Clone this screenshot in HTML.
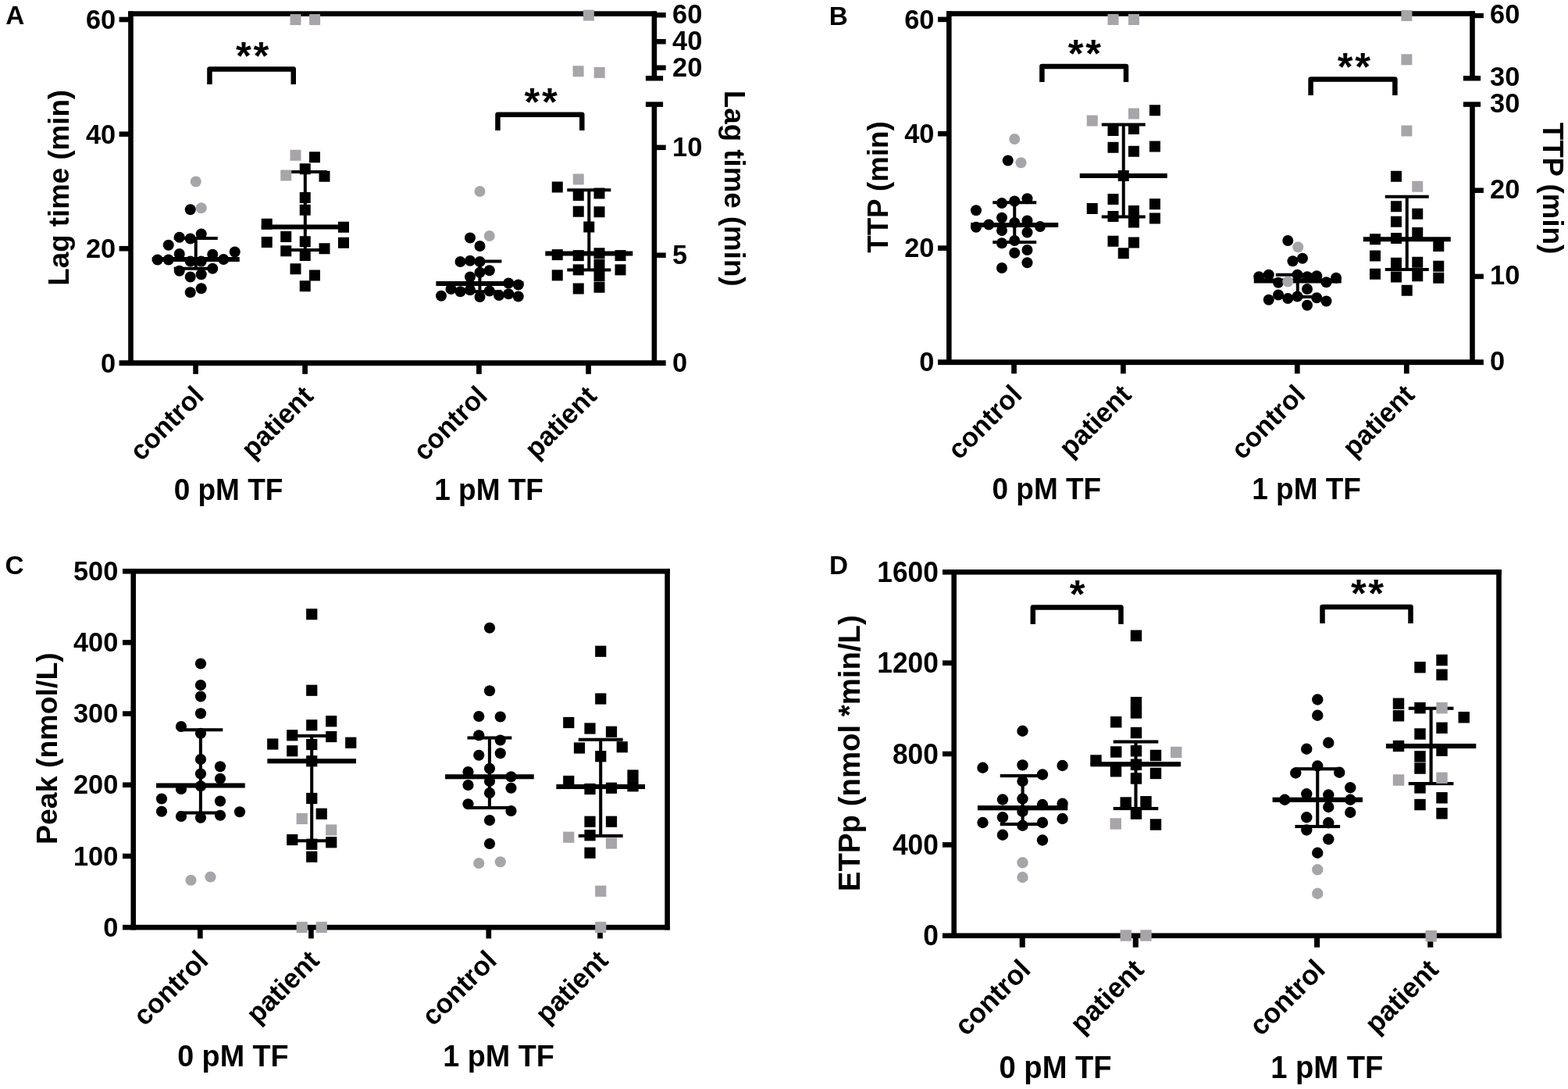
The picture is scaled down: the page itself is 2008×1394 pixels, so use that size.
<!DOCTYPE html>
<html lang="en"><head><meta charset="utf-8"><title>Figure</title>
<style>
html,body{margin:0;padding:0;background:#fff;overflow:hidden;width:2008px;height:1394px}
svg{display:block}
text{font-family:'Liberation Sans', Arial, Helvetica, sans-serif;font-weight:700;fill:#000}
</style></head>
<body>
<svg width="2008" height="1394" viewBox="0 0 2008 1394">
<rect width="2008" height="1394" fill="#fff"/>
<g id="panelA">
<rect x="164.2" y="14.5" width="6.6" height="453.4"/>
<rect x="164.2" y="14.3" width="677" height="6.6"/>
<rect x="152.6" y="461.25" width="700.1" height="6.9"/>
<rect x="152.6" y="21.7" width="14.9" height="6.6"/>
<rect x="152.6" y="168.4" width="14.9" height="6.6"/>
<rect x="152.6" y="314.9" width="14.9" height="6.6"/>
<rect x="834.6" y="14.5" width="6.6" height="85.7"/>
<rect x="837.9" y="16" width="14.8" height="6.5"/>
<rect x="837.9" y="50" width="14.8" height="6.5"/>
<rect x="837.9" y="83.5" width="14.8" height="6.5"/>
<rect x="826.9" y="96.95" width="22.2" height="6.5"/>
<rect x="826.9" y="130.35" width="22.2" height="6.5"/>
<rect x="834.6" y="133.6" width="6.6" height="334.3"/>
<rect x="837.9" y="185.55" width="14.8" height="6.5"/>
<rect x="837.9" y="323.45" width="14.8" height="6.5"/>
<rect x="247.25" y="464.6" width="6.7" height="14.2"/>
<rect x="387.25" y="464.6" width="6.7" height="14.2"/>
<rect x="610.05" y="464.6" width="6.7" height="14.2"/>
<rect x="750.2" y="464.6" width="6.7" height="14.2"/>
<g><circle cx="243.75" cy="268.25" r="7" fill="#000"/><circle cx="257.75" cy="299.5" r="7" fill="#000"/><circle cx="229.75" cy="303.75" r="7" fill="#000"/><circle cx="243.75" cy="305.5" r="7" fill="#000"/><circle cx="215.75" cy="313.75" r="7" fill="#000"/><circle cx="300.75" cy="322.5" r="7" fill="#000"/><circle cx="229.75" cy="325" r="7" fill="#000"/><circle cx="272.25" cy="325.75" r="7" fill="#000"/><circle cx="201.75" cy="332.5" r="7" fill="#000"/><circle cx="215.75" cy="332.5" r="7" fill="#000"/><circle cx="243.75" cy="334.5" r="7" fill="#000"/><circle cx="257.75" cy="334.5" r="7" fill="#000"/><circle cx="286.25" cy="332" r="7" fill="#000"/><circle cx="229.75" cy="346.75" r="7" fill="#000"/><circle cx="272.25" cy="343.75" r="7" fill="#000"/><circle cx="243.75" cy="354.5" r="7" fill="#000"/><circle cx="257.75" cy="351.25" r="7" fill="#000"/><circle cx="257.75" cy="369.25" r="7" fill="#000"/><circle cx="243.75" cy="374.25" r="7" fill="#000"/><rect x="194.75" y="329" width="112" height="6"/><rect x="222.75" y="303" width="56" height="4"/><rect x="222.75" y="341.75" width="56" height="4"/><rect x="248.75" y="305" width="4" height="38.75"/><circle cx="250.75" cy="232.5" r="7" fill="#a7a5a9"/><circle cx="257.75" cy="266.25" r="7" fill="#a7a5a9"/></g>
<g><rect x="396" y="194.25" width="14" height="14" fill="#000"/><rect x="383.75" y="209.25" width="14" height="14" fill="#000"/><rect x="408.5" y="218.75" width="14" height="14" fill="#000"/><rect x="383.75" y="246" width="14" height="14" fill="#000"/><rect x="383.75" y="261.75" width="14" height="14" fill="#000"/><rect x="334.75" y="279.75" width="14" height="14" fill="#000"/><rect x="433" y="283.75" width="14" height="14" fill="#000"/><rect x="359.25" y="296" width="14" height="14" fill="#000"/><rect x="334.75" y="303" width="14" height="14" fill="#000"/><rect x="383.75" y="302.25" width="14" height="14" fill="#000"/><rect x="433" y="303.75" width="14" height="14" fill="#000"/><rect x="359.25" y="314.25" width="14" height="14" fill="#000"/><rect x="408.5" y="311.25" width="14" height="14" fill="#000"/><rect x="383.75" y="320" width="14" height="14" fill="#000"/><rect x="371.5" y="337.25" width="14" height="14" fill="#000"/><rect x="396" y="345.5" width="14" height="14" fill="#000"/><rect x="383.75" y="359.25" width="14" height="14" fill="#000"/><rect x="334.8" y="287.5" width="112" height="6"/><rect x="362.8" y="218" width="56" height="4"/><rect x="362.8" y="318" width="56" height="4"/><rect x="388.8" y="220" width="4" height="100"/><rect x="371.5" y="191.75" width="14" height="14" fill="#a7a5a9"/><rect x="359.25" y="217.5" width="14" height="14" fill="#a7a5a9"/><rect x="371.5" y="18.1" width="14" height="14" fill="#a7a5a9"/><rect x="396.1" y="18.1" width="14" height="14" fill="#a7a5a9"/></g>
<g><circle cx="602" cy="304.5" r="7" fill="#000"/><circle cx="614.5" cy="315" r="7" fill="#000"/><circle cx="589.5" cy="335" r="7" fill="#000"/><circle cx="602" cy="333.75" r="7" fill="#000"/><circle cx="614.5" cy="335" r="7" fill="#000"/><circle cx="626.75" cy="346.25" r="7" fill="#000"/><circle cx="614.5" cy="348.75" r="7" fill="#000"/><circle cx="602" cy="354.5" r="7" fill="#000"/><circle cx="651.25" cy="362.5" r="7" fill="#000"/><circle cx="663.75" cy="364.5" r="7" fill="#000"/><circle cx="577.5" cy="370" r="7" fill="#000"/><circle cx="589.5" cy="373.25" r="7" fill="#000"/><circle cx="602" cy="371.25" r="7" fill="#000"/><circle cx="626.75" cy="372.5" r="7" fill="#000"/><circle cx="639" cy="378" r="7" fill="#000"/><circle cx="651.25" cy="376.25" r="7" fill="#000"/><circle cx="565" cy="378.75" r="7" fill="#000"/><circle cx="614.5" cy="380" r="7" fill="#000"/><circle cx="663.75" cy="379.5" r="7" fill="#000"/><rect x="558.4" y="360" width="112" height="6"/><rect x="586.4" y="332.5" width="56" height="4"/><rect x="586.4" y="371.25" width="56" height="4"/><rect x="612.4" y="334.5" width="4" height="38.75"/><circle cx="614.5" cy="245" r="7" fill="#a7a5a9"/><circle cx="626.75" cy="302" r="7" fill="#a7a5a9"/></g>
<g><rect x="706.75" y="232.5" width="14" height="14" fill="#000"/><rect x="733.75" y="243" width="14" height="14" fill="#000"/><rect x="760.5" y="240.5" width="14" height="14" fill="#000"/><rect x="733.75" y="263.75" width="14" height="14" fill="#000"/><rect x="760.5" y="264.25" width="14" height="14" fill="#000"/><rect x="747.25" y="283.5" width="14" height="14" fill="#000"/><rect x="706.75" y="319.12" width="14" height="14" fill="#000"/><rect x="733.75" y="320.12" width="14" height="14" fill="#000"/><rect x="760.5" y="317.25" width="14" height="14" fill="#000"/><rect x="787.5" y="320.12" width="14" height="14" fill="#000"/><rect x="760.5" y="331.75" width="14" height="14" fill="#000"/><rect x="733.75" y="338.38" width="14" height="14" fill="#000"/><rect x="706.75" y="345.38" width="14" height="14" fill="#000"/><rect x="787.5" y="338.38" width="14" height="14" fill="#000"/><rect x="733.75" y="362.5" width="14" height="14" fill="#000"/><rect x="760.5" y="360.75" width="14" height="14" fill="#000"/><rect x="760.5" y="346.25" width="14" height="14" fill="#000"/><rect x="698.3" y="321.5" width="112" height="6"/><rect x="726.3" y="241.25" width="56" height="4"/><rect x="726.3" y="343.5" width="56" height="4"/><rect x="752.3" y="243.25" width="4" height="102.25"/><rect x="733.75" y="222.5" width="14" height="14" fill="#a7a5a9"/><rect x="746.9" y="12.6" width="14" height="14" fill="#a7a5a9"/><rect x="733.6" y="84.2" width="14" height="14" fill="#a7a5a9"/><rect x="760.7" y="85.9" width="14" height="14" fill="#a7a5a9"/></g>
<path d="M268.45 107.9 V88.5 H375.75 V107.9" fill="none" stroke="#000" stroke-width="6.5" stroke-linejoin="round"/>
<text transform="translate(324.45 89)" font-size="50.8" text-anchor="middle" letter-spacing="2.7">**</text>
<path d="M637.45 167 V146.7 H745.3 V167" fill="none" stroke="#000" stroke-width="6.5" stroke-linejoin="round"/>
<text transform="translate(693.95 147.85)" font-size="50.8" text-anchor="middle" letter-spacing="2.7">**</text>
<text transform="translate(7.2 31.2)" font-size="33.3" text-anchor="start">A</text>
<text transform="translate(148.2 36.9) scale(1 1.035)" font-size="34.4" text-anchor="end">60</text>
<text transform="translate(148.2 183.6) scale(1 1.035)" font-size="34.4" text-anchor="end">40</text>
<text transform="translate(148.2 330.1) scale(1 1.035)" font-size="34.4" text-anchor="end">20</text>
<text transform="translate(148.2 476.5) scale(1 1.035)" font-size="34.4" text-anchor="end">0</text>
<text transform="translate(861.1 30.15) scale(1 1.035)" font-size="34.4" text-anchor="start">60</text>
<text transform="translate(861.1 64.15) scale(1 1.035)" font-size="34.4" text-anchor="start">40</text>
<text transform="translate(861.1 97.65) scale(1 1.035)" font-size="34.4" text-anchor="start">20</text>
<text transform="translate(861.1 199.7) scale(1 1.035)" font-size="34.4" text-anchor="start">10</text>
<text transform="translate(861.1 337.6) scale(1 1.035)" font-size="34.4" text-anchor="start">5</text>
<text transform="translate(861.1 475.5) scale(1 1.035)" font-size="34.4" text-anchor="start">0</text>
<text transform="translate(88.1 240.3) rotate(-90)" font-size="36.7" text-anchor="middle">Lag time (min)</text>
<text transform="translate(928.1 241.2) rotate(90)" font-size="36.7" text-anchor="middle">Lag time (min)</text>
<text transform="translate(263.1 509) rotate(-45) scale(1 1.02)" font-size="34.4" text-anchor="end">control</text>
<text transform="translate(403.15 509) rotate(-45) scale(1 1.02)" font-size="34.4" text-anchor="end">patient</text>
<text transform="translate(626.1 509) rotate(-45) scale(1 1.02)" font-size="34.4" text-anchor="end">control</text>
<text transform="translate(766.1 509) rotate(-45) scale(1 1.02)" font-size="34.4" text-anchor="end">patient</text>
<text transform="translate(292.5 640) scale(1 1.05)" font-size="37" text-anchor="middle">0 pM TF</text>
<text transform="translate(626.1 640) scale(1 1.05)" font-size="37" text-anchor="middle">1 pM TF</text>
</g>
<g id="panelB">
<rect x="1212" y="14.4" width="6.6" height="452.5"/>
<rect x="1212" y="14.2" width="676.8" height="6.6"/>
<rect x="1201" y="460.25" width="698.9" height="6.9"/>
<rect x="1201" y="21.6" width="14.3" height="6.6"/>
<rect x="1201" y="167.9" width="14.3" height="6.6"/>
<rect x="1201" y="314.3" width="14.3" height="6.6"/>
<rect x="1882.2" y="14.4" width="6.6" height="85.8"/>
<rect x="1885.5" y="16.85" width="14.4" height="6.3"/>
<rect x="1873.9" y="96.95" width="22.2" height="6.5"/>
<rect x="1873.9" y="130.35" width="22.2" height="6.5"/>
<rect x="1882.2" y="133.6" width="6.6" height="333.3"/>
<rect x="1885.5" y="240.45" width="14.4" height="6.5"/>
<rect x="1885.5" y="350.65" width="14.4" height="6.5"/>
<rect x="1295.2" y="463.6" width="6.7" height="14.7"/>
<rect x="1435.05" y="463.6" width="6.7" height="14.7"/>
<rect x="1657.95" y="463.6" width="6.7" height="14.7"/>
<rect x="1797.95" y="463.6" width="6.7" height="14.7"/>
<g><circle cx="1290.75" cy="205.5" r="7" fill="#000"/><circle cx="1315.5" cy="254.25" r="7" fill="#000"/><circle cx="1299.25" cy="257.5" r="7" fill="#000"/><circle cx="1283" cy="260" r="7" fill="#000"/><circle cx="1250" cy="269.25" r="7" fill="#000"/><circle cx="1283" cy="278.75" r="7" fill="#000"/><circle cx="1315.5" cy="282.5" r="7" fill="#000"/><circle cx="1299.25" cy="285" r="7" fill="#000"/><circle cx="1266.25" cy="287.5" r="7" fill="#000"/><circle cx="1250" cy="290.75" r="7" fill="#000"/><circle cx="1332" cy="290" r="7" fill="#000"/><circle cx="1283" cy="295" r="7" fill="#000"/><circle cx="1315.5" cy="297.5" r="7" fill="#000"/><circle cx="1299.25" cy="308" r="7" fill="#000"/><circle cx="1283" cy="311.25" r="7" fill="#000"/><circle cx="1315.5" cy="320" r="7" fill="#000"/><circle cx="1299.25" cy="323.75" r="7" fill="#000"/><circle cx="1315.5" cy="336.25" r="7" fill="#000"/><circle cx="1283" cy="343" r="7" fill="#000"/><rect x="1243.25" y="285" width="112" height="6"/><rect x="1271.25" y="257.25" width="56" height="4"/><rect x="1271.25" y="308" width="56" height="4"/><rect x="1297.25" y="259.25" width="4" height="50.75"/><circle cx="1299.25" cy="178" r="7" fill="#a7a5a9"/><circle cx="1307.5" cy="208.25" r="7" fill="#a7a5a9"/></g>
<g><rect x="1472" y="134.25" width="14" height="14" fill="#000"/><rect x="1418.5" y="160" width="14" height="14" fill="#000"/><rect x="1445" y="158" width="14" height="14" fill="#000"/><rect x="1418.5" y="181.75" width="14" height="14" fill="#000"/><rect x="1445" y="186.75" width="14" height="14" fill="#000"/><rect x="1472" y="180.5" width="14" height="14" fill="#000"/><rect x="1431.75" y="218" width="14" height="14" fill="#000"/><rect x="1418.5" y="248" width="14" height="14" fill="#000"/><rect x="1391.75" y="260" width="14" height="14" fill="#000"/><rect x="1472" y="254.25" width="14" height="14" fill="#000"/><rect x="1445" y="263" width="14" height="14" fill="#000"/><rect x="1418.5" y="270" width="14" height="14" fill="#000"/><rect x="1472" y="272.5" width="14" height="14" fill="#000"/><rect x="1445" y="277.5" width="14" height="14" fill="#000"/><rect x="1418.5" y="301.75" width="14" height="14" fill="#000"/><rect x="1445" y="303.5" width="14" height="14" fill="#000"/><rect x="1431.75" y="317.25" width="14" height="14" fill="#000"/><rect x="1382.75" y="222" width="112" height="6"/><rect x="1410.75" y="157.5" width="56" height="4"/><rect x="1410.75" y="275.5" width="56" height="4"/><rect x="1436.75" y="159.5" width="4" height="118"/><rect x="1418.5" y="18" width="14" height="14" fill="#a7a5a9"/><rect x="1445" y="18" width="14" height="14" fill="#a7a5a9"/><rect x="1445" y="138.5" width="14" height="14" fill="#a7a5a9"/><rect x="1391.75" y="147.5" width="14" height="14" fill="#a7a5a9"/></g>
<g><circle cx="1649.25" cy="308" r="7" fill="#000"/><circle cx="1668" cy="330.75" r="7" fill="#000"/><circle cx="1655.5" cy="334.25" r="7" fill="#000"/><circle cx="1624.75" cy="351.75" r="7" fill="#000"/><circle cx="1612.25" cy="354.25" r="7" fill="#000"/><circle cx="1661.5" cy="351.75" r="7" fill="#000"/><circle cx="1674" cy="354.25" r="7" fill="#000"/><circle cx="1686.25" cy="353.25" r="7" fill="#000"/><circle cx="1711" cy="355.75" r="7" fill="#000"/><circle cx="1637" cy="361.75" r="7" fill="#000"/><circle cx="1698.5" cy="361.25" r="7" fill="#000"/><circle cx="1674" cy="370" r="7" fill="#000"/><circle cx="1637" cy="377.5" r="7" fill="#000"/><circle cx="1624.75" cy="383.75" r="7" fill="#000"/><circle cx="1649.25" cy="382" r="7" fill="#000"/><circle cx="1661.5" cy="379.5" r="7" fill="#000"/><circle cx="1686.25" cy="381.25" r="7" fill="#000"/><circle cx="1698.5" cy="385.5" r="7" fill="#000"/><circle cx="1674" cy="390.75" r="7" fill="#000"/><rect x="1605.75" y="356.5" width="112" height="6"/><rect x="1633.75" y="349.75" width="56" height="4"/><rect x="1633.75" y="378" width="56" height="4"/><rect x="1659.75" y="351.75" width="4" height="28.25"/><circle cx="1662.25" cy="316.25" r="7" fill="#a7a5a9"/><circle cx="1649.25" cy="360.5" r="7" fill="#a7a5a9"/></g>
<g><rect x="1781" y="257.25" width="14" height="14" fill="#000"/><rect x="1808.25" y="266.75" width="14" height="14" fill="#000"/><rect x="1781" y="276.75" width="14" height="14" fill="#000"/><rect x="1808.25" y="291" width="14" height="14" fill="#000"/><rect x="1754" y="299.25" width="14" height="14" fill="#000"/><rect x="1781" y="298" width="14" height="14" fill="#000"/><rect x="1835.25" y="308" width="14" height="14" fill="#000"/><rect x="1754" y="320.5" width="14" height="14" fill="#000"/><rect x="1781" y="329.75" width="14" height="14" fill="#000"/><rect x="1808.25" y="328.75" width="14" height="14" fill="#000"/><rect x="1835.25" y="333.75" width="14" height="14" fill="#000"/><rect x="1754" y="343.75" width="14" height="14" fill="#000"/><rect x="1781" y="347.5" width="14" height="14" fill="#000"/><rect x="1808.25" y="346.25" width="14" height="14" fill="#000"/><rect x="1835.25" y="348.75" width="14" height="14" fill="#000"/><rect x="1794.75" y="364.75" width="14" height="14" fill="#000"/><rect x="1781" y="218.75" width="14" height="14" fill="#000"/><rect x="1745.75" y="303.25" width="112" height="6"/><rect x="1773.75" y="249.75" width="56" height="4"/><rect x="1773.75" y="343" width="56" height="4"/><rect x="1799.75" y="251.75" width="4" height="93.25"/><rect x="1808.25" y="231.75" width="14" height="14" fill="#a7a5a9"/><rect x="1794.4" y="13" width="14" height="14" fill="#a7a5a9"/><rect x="1794.4" y="69.25" width="14" height="14" fill="#a7a5a9"/><rect x="1794.4" y="160.5" width="14" height="14" fill="#a7a5a9"/></g>
<path d="M1334.4 104.9 V85 H1442 V104.9" fill="none" stroke="#000" stroke-width="6.5" stroke-linejoin="round"/>
<text transform="translate(1390.25 85.7)" font-size="50.8" text-anchor="middle" letter-spacing="2.7">**</text>
<path d="M1678.6 122 V101.6 H1786.4 V122" fill="none" stroke="#000" stroke-width="6.5" stroke-linejoin="round"/>
<text transform="translate(1735.25 102.8)" font-size="50.8" text-anchor="middle" letter-spacing="2.7">**</text>
<text transform="translate(1061.8 31.7)" font-size="33.3" text-anchor="start">B</text>
<text transform="translate(1196.5 36.5) scale(1 1.035)" font-size="34.4" text-anchor="end">60</text>
<text transform="translate(1196.5 182.8) scale(1 1.035)" font-size="34.4" text-anchor="end">40</text>
<text transform="translate(1196.5 329.2) scale(1 1.035)" font-size="34.4" text-anchor="end">20</text>
<text transform="translate(1196.5 475.2) scale(1 1.035)" font-size="34.4" text-anchor="end">0</text>
<text transform="translate(1908 29.9) scale(1 1.035)" font-size="34.4" text-anchor="start">60</text>
<text transform="translate(1908 110.1) scale(1 1.035)" font-size="34.4" text-anchor="start">30</text>
<text transform="translate(1908 143.5) scale(1 1.035)" font-size="34.4" text-anchor="start">30</text>
<text transform="translate(1908 253.6) scale(1 1.035)" font-size="34.4" text-anchor="start">20</text>
<text transform="translate(1908 363.8) scale(1 1.035)" font-size="34.4" text-anchor="start">10</text>
<text transform="translate(1908 473.5) scale(1 1.035)" font-size="34.4" text-anchor="start">0</text>
<text transform="translate(1137 239.5) rotate(-90)" font-size="36.7" text-anchor="middle">TTP (min)</text>
<text transform="translate(1975.7 241) rotate(90)" font-size="36.7" text-anchor="middle">TTP (min)</text>
<text transform="translate(1310.65 507.4) rotate(-45) scale(1 1.02)" font-size="34.4" text-anchor="end">control</text>
<text transform="translate(1450.5 507.4) rotate(-45) scale(1 1.02)" font-size="34.4" text-anchor="end">patient</text>
<text transform="translate(1673.4 507.4) rotate(-45) scale(1 1.02)" font-size="34.4" text-anchor="end">control</text>
<text transform="translate(1813.4 507.4) rotate(-45) scale(1 1.02)" font-size="34.4" text-anchor="end">patient</text>
<text transform="translate(1340.3 638.6) scale(1 1.05)" font-size="37" text-anchor="middle">0 pM TF</text>
<text transform="translate(1673.1 638.6) scale(1 1.05)" font-size="37" text-anchor="middle">1 pM TF</text>
</g>
<g id="panelC">
<rect x="167.45" y="727.95" width="6.6" height="462.45"/>
<rect x="851.3" y="727.95" width="6.6" height="462.45"/>
<rect x="157" y="727.95" width="700.9" height="6.6"/>
<rect x="157" y="1183.8" width="700.9" height="6.6"/>
<rect x="157" y="819.12" width="13.75" height="6.6"/>
<rect x="157" y="910.29" width="13.75" height="6.6"/>
<rect x="157" y="1001.46" width="13.75" height="6.6"/>
<rect x="157" y="1092.63" width="13.75" height="6.6"/>
<rect x="252.95" y="1187.1" width="6.7" height="14.3"/>
<rect x="395.05" y="1187.1" width="6.7" height="14.3"/>
<rect x="622.45" y="1187.1" width="6.7" height="14.3"/>
<rect x="765.15" y="1187.1" width="6.7" height="14.3"/>
<g><circle cx="257" cy="849.5" r="7.1" fill="#000"/><circle cx="257" cy="877" r="7.1" fill="#000"/><circle cx="257" cy="891.5" r="7.1" fill="#000"/><circle cx="257" cy="913.25" r="7.1" fill="#000"/><circle cx="232" cy="930" r="7.1" fill="#000"/><circle cx="257" cy="938.75" r="7.1" fill="#000"/><circle cx="257" cy="972" r="7.1" fill="#000"/><circle cx="282" cy="981.25" r="7.1" fill="#000"/><circle cx="257" cy="990.5" r="7.1" fill="#000"/><circle cx="282" cy="996.75" r="7.1" fill="#000"/><circle cx="257" cy="1006.25" r="7.1" fill="#000"/><circle cx="232" cy="1010" r="7.1" fill="#000"/><circle cx="207" cy="1022.5" r="7.1" fill="#000"/><circle cx="282" cy="1025.5" r="7.1" fill="#000"/><circle cx="207" cy="1038.75" r="7.1" fill="#000"/><circle cx="307" cy="1039.25" r="7.1" fill="#000"/><circle cx="232" cy="1045" r="7.1" fill="#000"/><circle cx="282" cy="1043.75" r="7.1" fill="#000"/><circle cx="257" cy="1046.75" r="7.1" fill="#000"/><rect x="200.06" y="1002.46" width="113.68" height="6.09"/><rect x="228.48" y="932.22" width="56.84" height="4.06"/><rect x="228.48" y="1038.47" width="56.84" height="4.06"/><rect x="254.87" y="934.25" width="4.06" height="106.25"/><circle cx="244.5" cy="1126.75" r="7.1" fill="#a7a5a9"/><circle cx="269.5" cy="1122.5" r="7.1" fill="#a7a5a9"/></g>
<g><rect x="392.14" y="779.14" width="14.21" height="14.21" fill="#000"/><rect x="392.14" y="876.64" width="14.21" height="14.21" fill="#000"/><rect x="417.14" y="916.14" width="14.21" height="14.21" fill="#000"/><rect x="392.14" y="921.14" width="14.21" height="14.21" fill="#000"/><rect x="367.14" y="934.14" width="14.21" height="14.21" fill="#000"/><rect x="417.14" y="935.89" width="14.21" height="14.21" fill="#000"/><rect x="342.14" y="945.39" width="14.21" height="14.21" fill="#000"/><rect x="442.14" y="943.64" width="14.21" height="14.21" fill="#000"/><rect x="392.14" y="945.89" width="14.21" height="14.21" fill="#000"/><rect x="367.14" y="954.14" width="14.21" height="14.21" fill="#000"/><rect x="392.14" y="967.14" width="14.21" height="14.21" fill="#000"/><rect x="392.14" y="1014.89" width="14.21" height="14.21" fill="#000"/><rect x="404.64" y="1034.64" width="14.21" height="14.21" fill="#000"/><rect x="367.14" y="1067.89" width="14.21" height="14.21" fill="#000"/><rect x="417.14" y="1071.14" width="14.21" height="14.21" fill="#000"/><rect x="392.14" y="1073.64" width="14.21" height="14.21" fill="#000"/><rect x="392.14" y="1089.64" width="14.21" height="14.21" fill="#000"/><rect x="342.36" y="971.21" width="113.68" height="6.09"/><rect x="370.78" y="939.97" width="56.84" height="4.06"/><rect x="370.78" y="1074.22" width="56.84" height="4.06"/><rect x="397.17" y="942" width="4.06" height="134.25"/><rect x="379.64" y="1040.89" width="14.21" height="14.21" fill="#a7a5a9"/><rect x="417.14" y="1055.39" width="14.21" height="14.21" fill="#a7a5a9"/><rect x="379.64" y="1179.89" width="14.21" height="14.21" fill="#a7a5a9"/><rect x="404.64" y="1179.89" width="14.21" height="14.21" fill="#a7a5a9"/></g>
<g><circle cx="627" cy="803.75" r="7.1" fill="#000"/><circle cx="627" cy="884.25" r="7.1" fill="#000"/><circle cx="613.25" cy="917" r="7.1" fill="#000"/><circle cx="640.75" cy="917.5" r="7.1" fill="#000"/><circle cx="613.25" cy="941.25" r="7.1" fill="#000"/><circle cx="640.75" cy="947.5" r="7.1" fill="#000"/><circle cx="613.25" cy="966.75" r="7.1" fill="#000"/><circle cx="640.75" cy="964.25" r="7.1" fill="#000"/><circle cx="627" cy="983.75" r="7.1" fill="#000"/><circle cx="599.5" cy="988" r="7.1" fill="#000"/><circle cx="654.5" cy="994.25" r="7.1" fill="#000"/><circle cx="627" cy="1000" r="7.1" fill="#000"/><circle cx="599.5" cy="1005" r="7.1" fill="#000"/><circle cx="654.5" cy="1008.75" r="7.1" fill="#000"/><circle cx="627" cy="1015" r="7.1" fill="#000"/><circle cx="599.5" cy="1029.25" r="7.1" fill="#000"/><circle cx="654.5" cy="1038" r="7.1" fill="#000"/><circle cx="627" cy="1050" r="7.1" fill="#000"/><circle cx="627" cy="1080" r="7.1" fill="#000"/><rect x="570.06" y="991.21" width="113.68" height="6.09"/><rect x="598.48" y="942.47" width="56.84" height="4.06"/><rect x="598.48" y="1031.97" width="56.84" height="4.06"/><rect x="624.87" y="944.5" width="4.06" height="89.5"/><circle cx="613.25" cy="1105" r="7.1" fill="#a7a5a9"/><circle cx="640.75" cy="1103.25" r="7.1" fill="#a7a5a9"/></g>
<g><rect x="762.14" y="826.64" width="14.21" height="14.21" fill="#000"/><rect x="762.14" y="887.39" width="14.21" height="14.21" fill="#000"/><rect x="721.14" y="917.89" width="14.21" height="14.21" fill="#000"/><rect x="748.39" y="925.39" width="14.21" height="14.21" fill="#000"/><rect x="775.89" y="929.64" width="14.21" height="14.21" fill="#000"/><rect x="734.89" y="950.39" width="14.21" height="14.21" fill="#000"/><rect x="789.64" y="949.14" width="14.21" height="14.21" fill="#000"/><rect x="762.14" y="961.14" width="14.21" height="14.21" fill="#000"/><rect x="803.39" y="985.39" width="14.21" height="14.21" fill="#000"/><rect x="721.14" y="992.89" width="14.21" height="14.21" fill="#000"/><rect x="803.39" y="999.14" width="14.21" height="14.21" fill="#000"/><rect x="748.39" y="1002.89" width="14.21" height="14.21" fill="#000"/><rect x="775.89" y="1001.64" width="14.21" height="14.21" fill="#000"/><rect x="748.39" y="1044.64" width="14.21" height="14.21" fill="#000"/><rect x="775.89" y="1044.64" width="14.21" height="14.21" fill="#000"/><rect x="748.39" y="1062.14" width="14.21" height="14.21" fill="#000"/><rect x="748.39" y="1084.64" width="14.21" height="14.21" fill="#000"/><rect x="712.36" y="1003.96" width="113.68" height="6.09"/><rect x="740.78" y="944.72" width="56.84" height="4.06"/><rect x="740.78" y="1067.97" width="56.84" height="4.06"/><rect x="767.17" y="946.75" width="4.06" height="123.25"/><rect x="721.14" y="1064.64" width="14.21" height="14.21" fill="#a7a5a9"/><rect x="775.89" y="1072.39" width="14.21" height="14.21" fill="#a7a5a9"/><rect x="762.14" y="1133.64" width="14.21" height="14.21" fill="#a7a5a9"/><rect x="762.14" y="1179.89" width="14.21" height="14.21" fill="#a7a5a9"/></g>
<text transform="translate(6.6 735.3)" font-size="33.3" text-anchor="start">C</text>
<text transform="translate(151.3 742.85) scale(1 1.035)" font-size="34.4" text-anchor="end">500</text>
<text transform="translate(151.3 834.02) scale(1 1.035)" font-size="34.4" text-anchor="end">400</text>
<text transform="translate(151.3 925.19) scale(1 1.035)" font-size="34.4" text-anchor="end">300</text>
<text transform="translate(151.3 1016.36) scale(1 1.035)" font-size="34.4" text-anchor="end">200</text>
<text transform="translate(151.3 1107.53) scale(1 1.035)" font-size="34.4" text-anchor="end">100</text>
<text transform="translate(151.3 1198.7) scale(1 1.035)" font-size="34.4" text-anchor="end">0</text>
<text transform="translate(72.5 958.1) rotate(-90)" font-size="37.51" text-anchor="middle">Peak (nmol/L)</text>
<text transform="translate(268.5 1231.6) rotate(-45) scale(1 1.02)" font-size="34.74" text-anchor="end">control</text>
<text transform="translate(410.6 1231.6) rotate(-45) scale(1 1.02)" font-size="34.74" text-anchor="end">patient</text>
<text transform="translate(638 1231.6) rotate(-45) scale(1 1.02)" font-size="34.74" text-anchor="end">control</text>
<text transform="translate(780.7 1231.6) rotate(-45) scale(1 1.02)" font-size="34.74" text-anchor="end">patient</text>
<text transform="translate(298.4 1365) scale(1 1.05)" font-size="37.74" text-anchor="middle">0 pM TF</text>
<text transform="translate(638.55 1365) scale(1 1.05)" font-size="37.74" text-anchor="middle">1 pM TF</text>
</g>
<g id="panelD">
<rect x="1218.4" y="729" width="6.6" height="472.05"/>
<rect x="1916.2" y="729" width="6.6" height="472.05"/>
<rect x="1207" y="729" width="715.8" height="6.6"/>
<rect x="1207" y="1194.45" width="715.8" height="6.6"/>
<rect x="1207" y="845.36" width="14.7" height="6.6"/>
<rect x="1207" y="961.73" width="14.7" height="6.6"/>
<rect x="1207" y="1078.09" width="14.7" height="6.6"/>
<rect x="1305.65" y="1197.75" width="7.1" height="14.95"/>
<rect x="1450.75" y="1197.75" width="7.1" height="14.95"/>
<rect x="1683.05" y="1197.75" width="7.1" height="14.95"/>
<rect x="1828.2" y="1197.75" width="7.1" height="14.95"/>
<g><circle cx="1309.5" cy="935.75" r="7.21" fill="#000"/><circle cx="1258.5" cy="982.75" r="7.21" fill="#000"/><circle cx="1309.5" cy="979.4" r="7.21" fill="#000"/><circle cx="1360.6" cy="980" r="7.21" fill="#000"/><circle cx="1335" cy="991.5" r="7.21" fill="#000"/><circle cx="1309.5" cy="1000" r="7.21" fill="#000"/><circle cx="1284" cy="1023.5" r="7.21" fill="#000"/><circle cx="1309.5" cy="1022.5" r="7.21" fill="#000"/><circle cx="1335" cy="1030" r="7.21" fill="#000"/><circle cx="1360.6" cy="1028.75" r="7.21" fill="#000"/><circle cx="1309.5" cy="1038.75" r="7.21" fill="#000"/><circle cx="1284" cy="1046.25" r="7.21" fill="#000"/><circle cx="1360.6" cy="1048" r="7.21" fill="#000"/><circle cx="1258.5" cy="1053" r="7.21" fill="#000"/><circle cx="1335" cy="1053" r="7.21" fill="#000"/><circle cx="1309.5" cy="1056.75" r="7.21" fill="#000"/><circle cx="1284" cy="1068.75" r="7.21" fill="#000"/><circle cx="1335" cy="1075.5" r="7.21" fill="#000"/><rect x="1251.92" y="1031.11" width="115.36" height="6.18"/><rect x="1280.76" y="991.04" width="57.68" height="4.12"/><rect x="1280.76" y="1052.94" width="57.68" height="4.12"/><rect x="1307.54" y="993.1" width="4.12" height="61.9"/><circle cx="1309.5" cy="1104.25" r="7.21" fill="#a7a5a9"/><circle cx="1309.5" cy="1123" r="7.21" fill="#a7a5a9"/></g>
<g><rect x="1447.79" y="806.54" width="14.42" height="14.42" fill="#000"/><rect x="1447.79" y="892.04" width="14.42" height="14.42" fill="#000"/><rect x="1447.79" y="905.29" width="14.42" height="14.42" fill="#000"/><rect x="1422.04" y="917.04" width="14.42" height="14.42" fill="#000"/><rect x="1447.79" y="930.79" width="14.42" height="14.42" fill="#000"/><rect x="1422.04" y="955.29" width="14.42" height="14.42" fill="#000"/><rect x="1447.79" y="954.04" width="14.42" height="14.42" fill="#000"/><rect x="1472.79" y="959.79" width="14.42" height="14.42" fill="#000"/><rect x="1396.29" y="966.29" width="14.42" height="14.42" fill="#000"/><rect x="1447.79" y="971.54" width="14.42" height="14.42" fill="#000"/><rect x="1421.79" y="980.04" width="14.42" height="14.42" fill="#000"/><rect x="1472.79" y="982.79" width="14.42" height="14.42" fill="#000"/><rect x="1447.79" y="989.29" width="14.42" height="14.42" fill="#000"/><rect x="1434.54" y="1020.29" width="14.42" height="14.42" fill="#000"/><rect x="1460.29" y="1019.04" width="14.42" height="14.42" fill="#000"/><rect x="1447.79" y="1034.39" width="14.42" height="14.42" fill="#000"/><rect x="1472.79" y="1048.29" width="14.42" height="14.42" fill="#000"/><rect x="1396.82" y="975.16" width="115.36" height="6.18"/><rect x="1425.66" y="947.44" width="57.68" height="4.12"/><rect x="1425.66" y="1032.94" width="57.68" height="4.12"/><rect x="1452.44" y="949.5" width="4.12" height="85.5"/><rect x="1499.04" y="955.79" width="14.42" height="14.42" fill="#a7a5a9"/><rect x="1421.54" y="1047.29" width="14.42" height="14.42" fill="#a7a5a9"/><rect x="1434.54" y="1190.29" width="14.42" height="14.42" fill="#a7a5a9"/><rect x="1460.29" y="1190.29" width="14.42" height="14.42" fill="#a7a5a9"/></g>
<g><circle cx="1687.25" cy="895.5" r="7.21" fill="#000"/><circle cx="1687.25" cy="915.75" r="7.21" fill="#000"/><circle cx="1701.25" cy="950.75" r="7.21" fill="#000"/><circle cx="1673.25" cy="958.75" r="7.21" fill="#000"/><circle cx="1687.25" cy="980.5" r="7.21" fill="#000"/><circle cx="1659.25" cy="989.5" r="7.21" fill="#000"/><circle cx="1715.25" cy="988.75" r="7.21" fill="#000"/><circle cx="1729.25" cy="1008.25" r="7.21" fill="#000"/><circle cx="1673.25" cy="1016.25" r="7.21" fill="#000"/><circle cx="1701.25" cy="1017.5" r="7.21" fill="#000"/><circle cx="1645.25" cy="1023.75" r="7.21" fill="#000"/><circle cx="1729.25" cy="1023.75" r="7.21" fill="#000"/><circle cx="1701.25" cy="1033" r="7.21" fill="#000"/><circle cx="1729.25" cy="1040" r="7.21" fill="#000"/><circle cx="1673.25" cy="1046.25" r="7.21" fill="#000"/><circle cx="1701.25" cy="1053.25" r="7.21" fill="#000"/><circle cx="1673.25" cy="1062.5" r="7.21" fill="#000"/><circle cx="1701.25" cy="1074.25" r="7.21" fill="#000"/><circle cx="1687.25" cy="1091.75" r="7.21" fill="#000"/><rect x="1629.57" y="1020.66" width="115.36" height="6.18"/><rect x="1658.41" y="982.19" width="57.68" height="4.12"/><rect x="1658.41" y="1055.94" width="57.68" height="4.12"/><rect x="1685.19" y="984.25" width="4.12" height="73.75"/><circle cx="1687.25" cy="1113.25" r="7.21" fill="#a7a5a9"/><circle cx="1687.25" cy="1143.75" r="7.21" fill="#a7a5a9"/></g>
<g><rect x="1839.29" y="837.79" width="14.42" height="14.42" fill="#000"/><rect x="1811.29" y="847.04" width="14.42" height="14.42" fill="#000"/><rect x="1839.29" y="856.54" width="14.42" height="14.42" fill="#000"/><rect x="1783.79" y="893.54" width="14.42" height="14.42" fill="#000"/><rect x="1811.29" y="899.04" width="14.42" height="14.42" fill="#000"/><rect x="1783.79" y="909.04" width="14.42" height="14.42" fill="#000"/><rect x="1867.54" y="911.04" width="14.42" height="14.42" fill="#000"/><rect x="1839.29" y="924.54" width="14.42" height="14.42" fill="#000"/><rect x="1811.29" y="932.29" width="14.42" height="14.42" fill="#000"/><rect x="1783.79" y="947.79" width="14.42" height="14.42" fill="#000"/><rect x="1839.29" y="953.54" width="14.42" height="14.42" fill="#000"/><rect x="1811.29" y="961.19" width="14.42" height="14.42" fill="#000"/><rect x="1811.29" y="976.29" width="14.42" height="14.42" fill="#000"/><rect x="1811.29" y="1001.19" width="14.42" height="14.42" fill="#000"/><rect x="1839.29" y="1014.04" width="14.42" height="14.42" fill="#000"/><rect x="1811.29" y="1022.79" width="14.42" height="14.42" fill="#000"/><rect x="1839.29" y="1034.04" width="14.42" height="14.42" fill="#000"/><rect x="1774.92" y="951.91" width="115.36" height="6.18"/><rect x="1803.76" y="904.69" width="57.68" height="4.12"/><rect x="1803.76" y="1001.04" width="57.68" height="4.12"/><rect x="1830.54" y="906.75" width="4.12" height="96.35"/><rect x="1839.29" y="899.04" width="14.42" height="14.42" fill="#a7a5a9"/><rect x="1783.79" y="991.29" width="14.42" height="14.42" fill="#a7a5a9"/><rect x="1839.29" y="988.54" width="14.42" height="14.42" fill="#a7a5a9"/><rect x="1825.54" y="1190.99" width="14.42" height="14.42" fill="#a7a5a9"/></g>
<path d="M1322.8 799 V777.6 H1435.5 V799" fill="none" stroke="#000" stroke-width="6.5" stroke-linejoin="round"/>
<text transform="translate(1380.95 777.5)" font-size="50.8" text-anchor="middle" letter-spacing="2.7">*</text>
<path d="M1693.5 797.9 V777.05 H1806.5 V797.9" fill="none" stroke="#000" stroke-width="6.5" stroke-linejoin="round"/>
<text transform="translate(1752.35 777.1)" font-size="50.8" text-anchor="middle" letter-spacing="2.7">**</text>
<text transform="translate(1062 735.3)" font-size="33.3" text-anchor="start">D</text>
<text transform="translate(1201.9 745) scale(1 1.035)" font-size="35.33" text-anchor="end">1600</text>
<text transform="translate(1201.9 861.36) scale(1 1.035)" font-size="35.33" text-anchor="end">1200</text>
<text transform="translate(1201.9 977.73) scale(1 1.035)" font-size="35.33" text-anchor="end">800</text>
<text transform="translate(1201.9 1094.09) scale(1 1.035)" font-size="35.33" text-anchor="end">400</text>
<text transform="translate(1201.9 1210.45) scale(1 1.035)" font-size="35.33" text-anchor="end">0</text>
<text transform="translate(1101.2 964.1) rotate(-90)" font-size="38.39" text-anchor="middle">ETPp (nmol *min/L)</text>
<text transform="translate(1321.6 1243.25) rotate(-45) scale(1 1.02)" font-size="35.16" text-anchor="end">control</text>
<text transform="translate(1466.7 1243.25) rotate(-45) scale(1 1.02)" font-size="35.16" text-anchor="end">patient</text>
<text transform="translate(1699 1243.25) rotate(-45) scale(1 1.02)" font-size="35.16" text-anchor="end">control</text>
<text transform="translate(1844.15 1243.25) rotate(-45) scale(1 1.02)" font-size="35.16" text-anchor="end">patient</text>
<text transform="translate(1351.6 1379.75) scale(1 1.05)" font-size="38.18" text-anchor="middle">0 pM TF</text>
<text transform="translate(1699.2 1379.75) scale(1 1.05)" font-size="38.18" text-anchor="middle">1 pM TF</text>
</g>
</svg>
</body></html>
